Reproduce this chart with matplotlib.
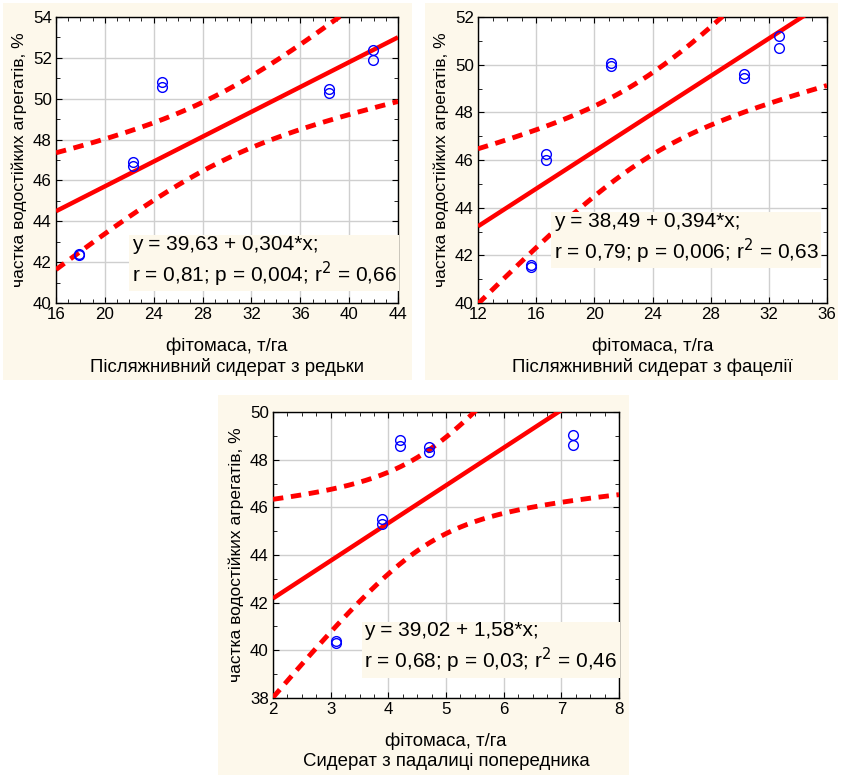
import numpy as np
import matplotlib.pyplot as plt
from matplotlib.patches import Rectangle
from matplotlib.ticker import MultipleLocator

plt.rcParams['font.family'] = ['Liberation Sans', 'DejaVu Sans']
plt.rcParams['lines.scale_dashes'] = False

cream = '#FDF8EB'

# Panel 1: radish
x1 = [17.88, 17.88, 22.34, 22.34, 24.66, 24.66, 38.38, 38.38, 41.96, 41.96]
y1 = [42.42, 42.35, 46.90, 46.69, 50.82, 50.56, 50.48, 50.26, 52.40, 51.91]
# Panel 2: phacelia
x2 = [15.67, 15.67, 16.70, 16.70, 21.17, 21.17, 30.28, 30.28, 32.69, 32.69]
y2 = [41.58, 41.51, 46.25, 46.00, 50.07, 49.93, 49.62, 49.42, 51.21, 50.72]
# Panel 3: volunteer of predecessor
x3 = [3.10, 3.10, 3.89, 3.89, 4.20, 4.20, 4.70, 4.70, 7.20, 7.20]
y3 = [40.38, 40.31, 45.52, 45.30, 48.84, 48.59, 48.53, 48.31, 49.05, 48.60]

coef1 = (39.63, 0.304)
coef2 = (38.49, 0.394)
coef3 = (39.02, 1.58)

eq1 = 'y = 39,63 + 0,304*x;\nr = 0,81; p = 0,004; r$^2$ = 0,66'
eq2 = 'y = 38,49 + 0,394*x;\nr = 0,79; p = 0,006; r$^2$ = 0,63'
eq3 = 'y = 39,02 + 1,58*x;\nr = 0,68; p = 0,03; r$^2$ = 0,46'

titles = ['Післяжнивний сидерат з редьки',
          'Післяжнивний сидерат з фацелії',
          'Сидерат з падалиці попередника']

T_CRIT = 2.306  # t(0.975, df=8)

W, H = 841, 775
fig = plt.figure(figsize=(W / 100, H / 100), dpi=100)
fig.patch.set_facecolor('white')


def px_rect(x0, y0, x1_, y1_):
    return [x0 / W, 1 - y1_ / H, (x1_ - x0) / W, (y1_ - y0) / H]


# cream panel backgrounds
for (a, b, c, d) in [(3, 3, 412, 380), (425, 3, 838, 380), (218, 395, 629, 775)]:
    r = px_rect(a, b, c, d)
    fig.patches.append(Rectangle((r[0], r[1]), r[2], r[3], transform=fig.transFigure,
                                 facecolor=cream, edgecolor='none', zorder=-10))


def panel(rect, xs, ys, coef, eq, title, xlim, ylim, xmaj, xmin, ymaj, box_xy):
    ax = fig.add_axes(px_rect(*rect))
    ax.set_facecolor('white')
    xs = np.array(xs)
    ys = np.array(ys)
    a, b = coef
    n = len(xs)
    xx = np.linspace(xlim[0], xlim[1], 300)
    fit = a + b * xx
    resid = ys - (a + b * xs)
    s = np.sqrt(np.sum(resid ** 2) / (n - 2))
    sxx = np.sum((xs - xs.mean()) ** 2)
    half = T_CRIT * s * np.sqrt(1 / n + (xx - xs.mean()) ** 2 / sxx)

    ax.plot(xx, fit, color='#FF0000', lw=3.2, solid_capstyle='butt', zorder=3)
    for band in (fit + half, fit - half):
        ax.plot(xx, band, color='#FF0000', lw=3.5, dashes=(7.5, 5.5),
                dash_capstyle='butt', zorder=3)
    ax.plot(xs, ys, 'o', mfc='none', mec='#0000FF', ms=7, mew=1.0, zorder=4)

    ax.set_xlim(*xlim)
    ax.set_ylim(*ylim)
    ax.xaxis.set_major_locator(MultipleLocator(xmaj))
    ax.xaxis.set_minor_locator(MultipleLocator(xmin))
    ax.yaxis.set_major_locator(MultipleLocator(ymaj))
    ax.yaxis.set_minor_locator(MultipleLocator(ymaj / 2))
    ax.grid(True, which='major', color='#CFCFCF', lw=1.0)
    ax.set_axisbelow(True)
    ax.tick_params(which='both', direction='in', top=True, right=True,
                   labelsize=12.2, color='black', pad=3)
    ax.tick_params(which='major', length=4)
    ax.tick_params(which='minor', length=3)
    for sp in ax.spines.values():
        sp.set_linewidth(1.0)
        sp.set_color('black')

    ax.set_xlabel('фітомаса, т/га\n' + title, fontsize=13.4, labelpad=11,
                  linespacing=1.2)
    ax.set_ylabel('частка водостійких агрегатів, %', fontsize=12.5, labelpad=4)

    ax.text(box_xy[0], box_xy[1], eq, transform=ax.transAxes, ha='right', va='bottom',
            multialignment='left', fontsize=15, linespacing=1.25, zorder=5,
            bbox=dict(boxstyle='square,pad=0.12', facecolor=cream, edgecolor='none'))
    return ax


panel((56, 17, 398, 303), x1, y1, coef1, eq1, titles[0],
      (16, 44), (40, 54), 4, 1, 2, (0.995, 0.05))
panel((478, 17, 827, 303), x2, y2, coef2, eq2, titles[1],
      (12, 36), (40, 52), 4, 1, 2, (0.975, 0.13))
panel((273, 412, 619, 698), x3, y3, coef3, eq3, titles[2],
      (2, 8), (38, 50), 1, 0.25, 2, (0.995, 0.08))

fig.savefig('out.png', dpi=100, facecolor='white')
